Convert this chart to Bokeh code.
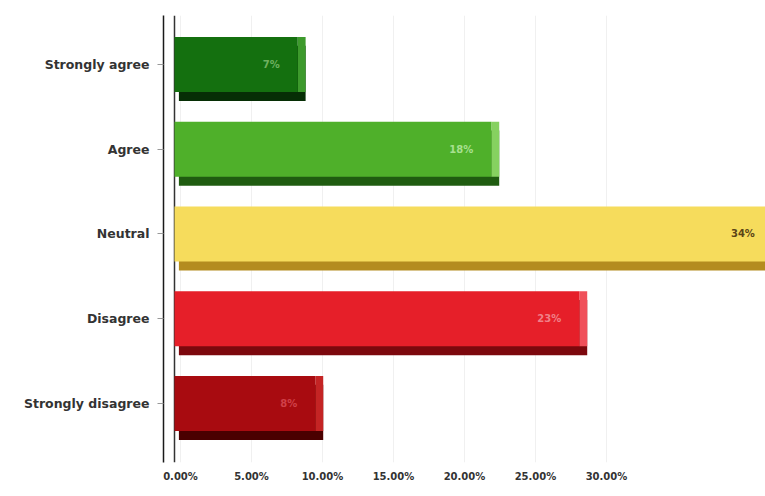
from bokeh.plotting import figure
from bokeh.models import (ColumnDataSource, Range1d, LinearAxis, FixedTicker,
                          NumeralTickFormatter, Grid, Span)
from bokeh.core.properties import value
from bokeh.embed import file_html
from bokeh.resources import INLINE

# ---- data ----
categories = ["Strongly agree", "Agree", "Neutral", "Disagree", "Strongly disagree"]
shares = [0.07, 0.18, 0.34, 0.23, 0.08]
share_labels = ["7%", "18%", "34%", "23%", "8%"]
axis_ticks = [0.0, 0.05, 0.10, 0.15, 0.20, 0.25, 0.30]

front_colors = ["#14700f", "#4fb02a", "#f6dc5c", "#e61f29", "#a80b10"]
shade_colors = ["#062e05", "#1f5c10", "#b48c1f", "#7c080d", "#4a0000"]
side_colors = ["#3d9a2c", "#86d160", "#f2e07a", "#f0505a", "#c42424"]
label_colors = ["#6fb060", "#a8e090", "#5b4516", "#f08088", "#d04048"]

n = len(categories)
ypos = [n - 1 - i for i in range(n)]

depth_x = 0.0045   # 3D depth in data fraction
depth_y = 0.105    # 3D depth in category units

src = ColumnDataSource(dict(
    y=ypos,
    share=shares,
    label=share_labels,
    front=front_colors,
    shade=shade_colors,
    side=side_colors,
    lab_col=label_colors,
    y_shade=[v - depth_y for v in ypos],
    right_shade=[s + depth_x for s in shares],
))

p = figure(width=765, height=496, output_backend="svg", toolbar_location=None,
           x_range=Range1d(-0.00625, 0.3358), y_range=Range1d(-0.696, 4.578),
           min_border_left=163, min_border_right=0, min_border_top=15,
           min_border_bottom=34, x_axis_location=None)
p.outline_line_color = None
p.background_fill_color = "white"
p.border_fill_color = "white"
p.xgrid.visible = False
p.ygrid.visible = False

# back-plane axis scale for the percent ticks
p.extra_x_ranges = {"wall": Range1d(-0.01197, 0.412)}
xax = LinearAxis(x_range_name="wall", ticker=FixedTicker(ticks=axis_ticks),
                 formatter=NumeralTickFormatter(format="0.00%"))
xax.axis_line_color = None
xax.major_tick_line_color = None
xax.minor_tick_line_color = None
xax.major_label_text_font = "DejaVu Sans"
xax.major_label_text_font_style = "bold"
xax.major_label_text_font_size = "10px"
xax.major_label_text_color = "#333333"
xax.major_label_standoff = 2
p.add_layout(xax, "below")

g = Grid(dimension=0, axis=xax, grid_line_color="#f0f0f0", level="underlay")
g.x_range_name = "wall"
p.add_layout(g)

# y axis
yax = p.yaxis[0]
yax.ticker = FixedTicker(ticks=ypos)
yax.major_label_overrides = {v: c for v, c in zip(ypos, categories)}
yax.axis_line_color = "#1a1a1a"
yax.axis_line_width = 1.5
yax.major_tick_line_color = "#999999"
yax.major_tick_out = 6
yax.major_tick_in = 0
yax.minor_tick_line_color = None
yax.major_label_text_font = "DejaVu Sans"
yax.major_label_text_font_style = "bold"
yax.major_label_text_font_size = "12.5px"
yax.major_label_text_color = "#333333"
yax.major_label_standoff = 8

# 3D wall edge
p.add_layout(Span(location=0, dimension="height", line_color="#333333",
                  line_width=1.5, level="underlay"))

bh = 0.65
# bottom/back shade
p.hbar(y="y_shade", left=0.0025, right="right_shade", height=bh,
       fill_color="shade", line_color=None, source=src)
# side face
p.hbar(y="y", left="share", right="right_shade", height=bh,
       fill_color="side", line_color=None, source=src)
# front face
p.hbar(y="y", left=0, right="share", height=bh,
       fill_color="front", line_color=None, source=src)

p.text(x="share", y="y", text="label", source=src, x_offset=-18,
       text_align="right", text_baseline="middle", text_color="lab_col",
       text_font=value("DejaVu Sans"), text_font_style="bold",
       text_font_size="10px")

open("out.html", "w").write(file_html(p, INLINE))
